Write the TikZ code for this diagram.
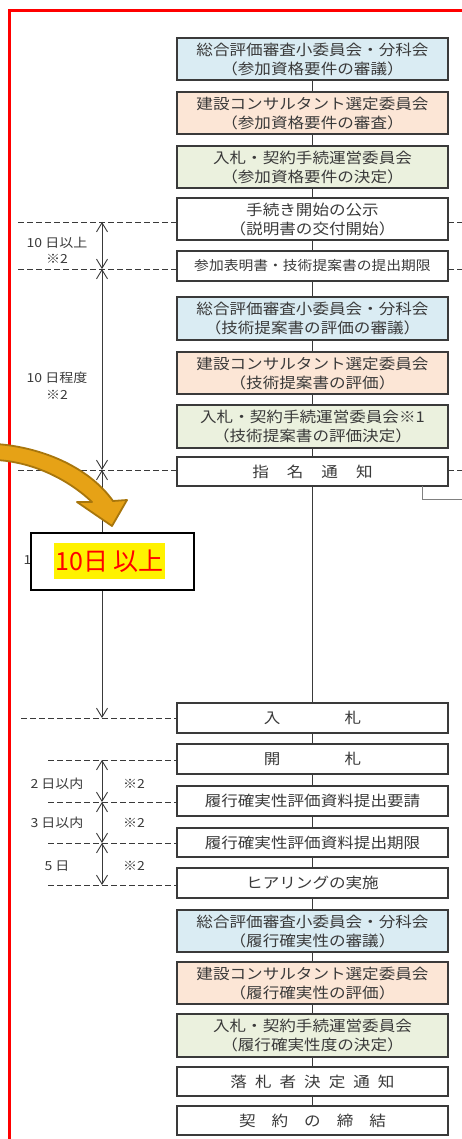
\documentclass[tikz,border=0pt]{standalone}
\usepackage{fontspec}
\newfontfamily\jp[FakeStretch=1.12]{Noto Sans CJK JP}
\newfontfamily\jpn{Noto Sans CJK JP}
\usetikzlibrary{arrows.meta}
\definecolor{bblue}{RGB}{218,236,243}
\definecolor{bpeach}{RGB}{252,230,214}
\definecolor{bgreen}{RGB}{235,241,222}
\definecolor{ink}{RGB}{58,58,58}
\definecolor{gold}{RGB}{230,162,22}
\definecolor{golddark}{RGB}{168,118,12}
\newcommand\hgap[1]{\hspace{#1pt}}
\begin{document}
\begin{tikzpicture}[x=1pt,y=-1pt,
  box/.style={draw=ink, line width=1.3pt, minimum width=271pt, inner sep=0pt, outer sep=0pt, align=center, text=ink, font=\jp\fontsize{14.8pt}{19pt}\selectfont},
  two/.style={minimum height=42pt},
  one/.style={minimum height=30pt},
  conn/.style={draw=ink, line width=1.2pt},
  dashln/.style={draw=ink, line width=0.9pt, dash pattern=on 6pt off 3pt},
  dimln/.style={draw=ink, line width=0.9pt, {Straight Barb[length=9pt,width=11pt]}-{Straight Barb[length=9pt,width=11pt]}},
  lbl/.style={text=ink, inner sep=0pt, font=\jp\fontsize{12.5pt}{15pt}\selectfont}]
\useasboundingbox (0,0) rectangle (461,1139);
\fill[white] (0,0) rectangle (461,1139);
% red frame
\draw[red, line width=3pt] (9.5,1200) -- (9.5,10.5) -- (520,10.5);

% boxes
\node[box, two, fill=bblue]  (b1) at (312.5,59) {総合評価審査小委員会・分科会\\（参加資格要件の審議）};
\node[box, two, fill=bpeach] (b2) at (312.5,113) {建設コンサルタント選定委員会\\（参加資格要件の審査）};
\node[box, two, fill=bgreen] (b3) at (312.5,167) {入札・契約手続運営委員会\\（参加資格要件の決定）};
\node[box, two, fill=white]  (b4) at (312.5,219) {手続き開始の公示\\（説明書の交付開始）};
\node[box, one, fill=white, font=\jp\fontsize{13.2pt}{16pt}\selectfont] (b5) at (312.5,266) {参加表明書・技術提案書の提出期限};
\node[box, minimum height=43pt, fill=bblue]  (b6) at (312.5,318.5) {総合評価審査小委員会・分科会\\（技術提案書の評価の審議）};
\node[box, two, fill=bpeach] (b7) at (312.5,373) {建設コンサルタント選定委員会\\（技術提案書の評価）};
\node[box, minimum height=43pt, fill=bgreen] (b8) at (312.5,426.5) {入札・契約手続運営委員会※1\\（技術提案書の評価決定）};
\node[box, minimum height=29pt, fill=white] (b9) at (312.5,471.5) {指\hgap{18}名\hgap{18}通\hgap{18}知};
\node[box, one, fill=white] (b10) at (312.5,718) {入\hgap{64}札};
\node[box, one, fill=white] (b11) at (312.5,759) {開\hgap{64}札};
\node[box, one, fill=white] (b12) at (312.5,801) {履行確実性評価資料提出要請};
\node[box, minimum height=29pt, fill=white] (b13) at (312.5,842.5) {履行確実性評価資料提出期限};
\node[box, one, fill=white] (b14) at (312.5,883) {ヒアリングの実施};
\node[box, two, fill=bblue]  (b15) at (312.5,931) {総合評価審査小委員会・分科会\\（履行確実性の審議）};
\node[box, two, fill=bpeach] (b16) at (312.5,983) {建設コンサルタント選定委員会\\（履行確実性の評価）};
\node[box, minimum height=43pt, fill=bgreen] (b17) at (312.5,1035.5) {入札・契約手続運営委員会\\（履行確実性度の決定）};
\node[box, minimum height=29pt, fill=white] (b18) at (312.5,1081.5) {落\hgap{8}札\hgap{8}者\hgap{8}決\hgap{8}定\hgap{8}通\hgap{8}知};
\node[box, minimum height=29pt, fill=white] (b19) at (312.5,1120.5) {契\hgap{16}約\hgap{16}の\hgap{16}締\hgap{16}結};

% connectors
\foreach \a/\b in {b1/b2,b2/b3,b3/b4,b4/b5,b5/b6,b6/b7,b7/b8,b8/b9,b9/b10,b10/b11,b11/b12,b12/b13,b13/b14,b14/b15,b15/b16,b16/b17,b17/b18,b18/b19}
  \draw[conn] (\a.south) -- (\b.north);

% side connector from b9
\coordinate (s1) at (422,486);
\coordinate (s2) at (422,499);
\coordinate (s3) at (470,499);
\draw[draw=gray, line width=1pt] (s1) -- (s2) -- (s3);

% dashed lines
\coordinate (l1) at (18,222);
\coordinate (l2) at (18,269);
\coordinate (l3) at (18,470);
\coordinate (l4) at (21,718);
\coordinate (l5) at (48,760);
\coordinate (l6) at (48,802);
\coordinate (l7) at (48,843);
\coordinate (l8) at (48,885);
\coordinate (r1) at (470,222);
\coordinate (r2) at (470,269);
\coordinate (r3) at (470,470);
\draw[dashln] (l1) -- (l1 -| b4.west);
\draw[dashln] (l2) -- (l2 -| b5.west);
\draw[dashln] (l3) -- (l3 -| b9.west);
\draw[dashln] (l4) -- (l4 -| b10.west);
\draw[dashln] (l5) -- (l5 -| b11.west);
\draw[dashln] (l6) -- (l6 -| b12.west);
\draw[dashln] (l7) -- (l7 -| b13.west);
\draw[dashln] (l8) -- (l8 -| b14.west);
\draw[dashln] (r1 -| b4.east) -- (r1);
\draw[dashln] (r2 -| b5.east) -- (r2);
\draw[dashln] (r3 -| b9.east) -- (r3);

% dimension lines
\coordinate (d1) at (102,222);
\coordinate (d2) at (102,269);
\coordinate (d3) at (102,470);
\coordinate (d4) at (102,718);
\coordinate (d5) at (102,760);
\coordinate (d6) at (102,802);
\coordinate (d7) at (102,843);
\coordinate (d8) at (102,885);
\draw[dimln] (d1) -- (d2);
\draw[dimln] (d2) -- (d3);
\draw[dimln] (d3) -- (d4);
\draw[dimln] (d5) -- (d6);
\draw[dimln] (d6) -- (d7);
\draw[dimln] (d7) -- (d8);

% labels
\node[lbl] (t1) at (57,243) {10 日以上};
\node[lbl] (t2) at (57,259) {※2};
\node[lbl] (t3) at (57,378) {10 日程度};
\node[lbl] (t4) at (57,395) {※2};
\node[lbl] (t5) at (27.5,560) {1};
\node[lbl] (t6) at (57,784) {2 日以内};
\node[lbl] (t7) at (134,784) {※2};
\node[lbl] (t8) at (57,823) {3 日以内};
\node[lbl] (t9) at (134,823) {※2};
\node[lbl] (t10) at (57,866) {5 日};
\node[lbl] (t11) at (134,866) {※2};

% gold curved arrow
\filldraw[fill=gold, draw=golddark, line width=1.8pt, line join=round]
  (-4,444) .. controls (40,447) and (88,466) .. (113,501)
  -- (127,500) -- (112,526) -- (77,502) -- (92,502)
  .. controls (70,481) and (35,462) .. (-4,460) -- cycle;

% callout box
\node[draw=black, line width=1.5pt, fill=white, minimum width=163pt, minimum height=57pt, inner sep=0pt] (note) at (112.5,561.5) {};
\node[fill=yellow, text=red, inner xsep=1.5pt, inner ysep=0pt, minimum height=36pt, font=\jpn\fontsize{25pt}{28pt}\selectfont] (notetxt) at (109.5,561) {10日 以上};
\end{tikzpicture}
\end{document}
